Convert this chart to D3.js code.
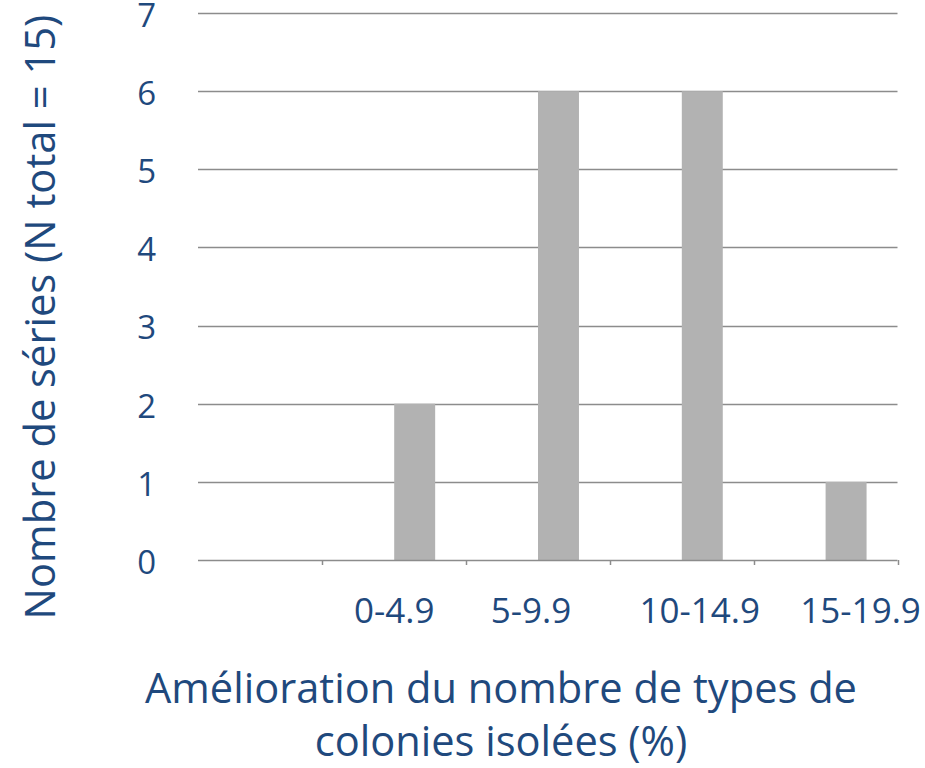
<!DOCTYPE html>
<meta charset="utf-8">
<head>
<script src="https://cdn.jsdelivr.net/npm/d3@7"></script>
<style>
  body { margin: 0; background: #fff; }
  text { font-family: "Open Sans", "Noto Sans", sans-serif; fill: #1F497D; }
</style>
</head>
<body>
<svg id="chart" width="925" height="768"></svg>
<script>

// data
var categories = ["", "0-4.9", "5-9.9", "10-14.9", "15-19.9"];
var series = ["vide", "séries"];
var emptyCounts = [0, 0, 0, 0, 0];
var counts = [0, 2, 6, 6, 1];
var yTicks = [0, 1, 2, 3, 4, 5, 6, 7];

var yTitle = "Nombre de séries (N total = 15)";
var xTitle = ["Amélioration du nombre de types de", "colonies isolées (%)"];

// label nudges, the source labels are not centred on their columns
var labelShift = [0, 0, -7, 18, 35];

var svg = d3.select("#chart");

var plotLeft = 198, plotRight = 897.5;
var plotTop = 13, plotBottom = 560;

var y = d3.scaleLinear()
  .domain([0, 7])
  .range([plotBottom, plotTop]);

// first band runs under the y labels, only its right part is visible
var step = 143.8;
var x = d3.scaleBand()
  .domain(categories)
  .range([plotRight - step * categories.length, plotRight])
  .padding(0);

var xs = d3.scaleBand()
  .domain(series)
  .range([0, x.bandwidth()])
  .paddingInner(0)
  .paddingOuter(0.755);

var grey = "#8c8c8c";

// gridlines
svg.append("g")
  .selectAll("line")
  .data(yTicks.filter(function(d) { return d > 0; }))
  .enter().append("line")
  .attr("x1", plotLeft)
  .attr("x2", plotRight)
  .attr("y1", function(d) { return Math.round(y(d)) + 0.5; })
  .attr("y2", function(d) { return Math.round(y(d)) + 0.5; })
  .attr("stroke", grey)
  .attr("stroke-width", 1.5);

// bars
var rows = categories.map(function(c, i) {
  return { cat: c, vals: [ { s: series[0], v: emptyCounts[i] }, { s: series[1], v: counts[i] } ] };
});

svg.append("g")
  .selectAll("g")
  .data(rows)
  .enter().append("g")
  .attr("transform", function(d) { return "translate(" + x(d.cat) + ",0)"; })
  .selectAll("rect")
  .data(function(d) { return d.vals; })
  .enter().append("rect")
  .attr("x", function(d) { return xs(d.s); })
  .attr("width", xs.bandwidth())
  .attr("y", function(d) { return y(d.v); })
  .attr("height", function(d) { return y(0) - y(d.v); })
  .attr("fill", "#b2b2b2");

// x axis line and ticks
var xAxis = svg.append("g");
xAxis.append("line")
  .attr("x1", plotLeft).attr("x2", plotRight)
  .attr("y1", Math.round(y(0)) + 0.5).attr("y2", Math.round(y(0)) + 0.5)
  .attr("stroke", grey).attr("stroke-width", 1.5);

xAxis.selectAll("line.tick")
  .data(categories)
  .enter().append("line")
  .attr("class", "tick")
  .attr("x1", function(d) { return Math.round(x(d) + x.bandwidth()) + 0.5; })
  .attr("x2", function(d) { return Math.round(x(d) + x.bandwidth()) + 0.5; })
  .attr("y1", y(0))
  .attr("y2", y(0) + 5)
  .attr("stroke", grey).attr("stroke-width", 1.5);

xAxis.selectAll("text")
  .data(categories)
  .enter().append("text")
  .attr("x", function(d, i) { return x(d) + x.bandwidth() / 2 + labelShift[i]; })
  .attr("y", 623)
  .attr("text-anchor", "middle")
  .style("font-size", "35px")
  .text(function(d) { return d; });

// y labels
svg.append("g")
  .selectAll("text")
  .data(yTicks)
  .enter().append("text")
  .attr("x", 156)
  .attr("y", function(d) { return y(d); })
  .attr("dy", "0.42em")
  .attr("text-anchor", "end")
  .style("font-size", "33px")
  .text(function(d) { return d; });

// fit a text to a width by changing its font size
function fit(sel, w) {
  var size = parseFloat(sel.style("font-size"));
  var len = sel.node().getComputedTextLength();
  sel.style("font-size", (size * w / len) + "px");
}

var yt = svg.append("text")
  .attr("transform", "translate(55,317) rotate(-90)")
  .attr("text-anchor", "middle")
  .style("font-size", "44px")
  .text(yTitle);
fit(yt, 605);

var xt1 = svg.append("text")
  .attr("x", 501).attr("y", 703)
  .attr("text-anchor", "middle")
  .style("font-size", "44px")
  .text(xTitle[0]);
fit(xt1, 712);

var xt2 = svg.append("text")
  .attr("x", 501).attr("y", 756)
  .attr("text-anchor", "middle")
  .style("font-size", xt1.style("font-size"))
  .text(xTitle[1]);

</script>
</body>
